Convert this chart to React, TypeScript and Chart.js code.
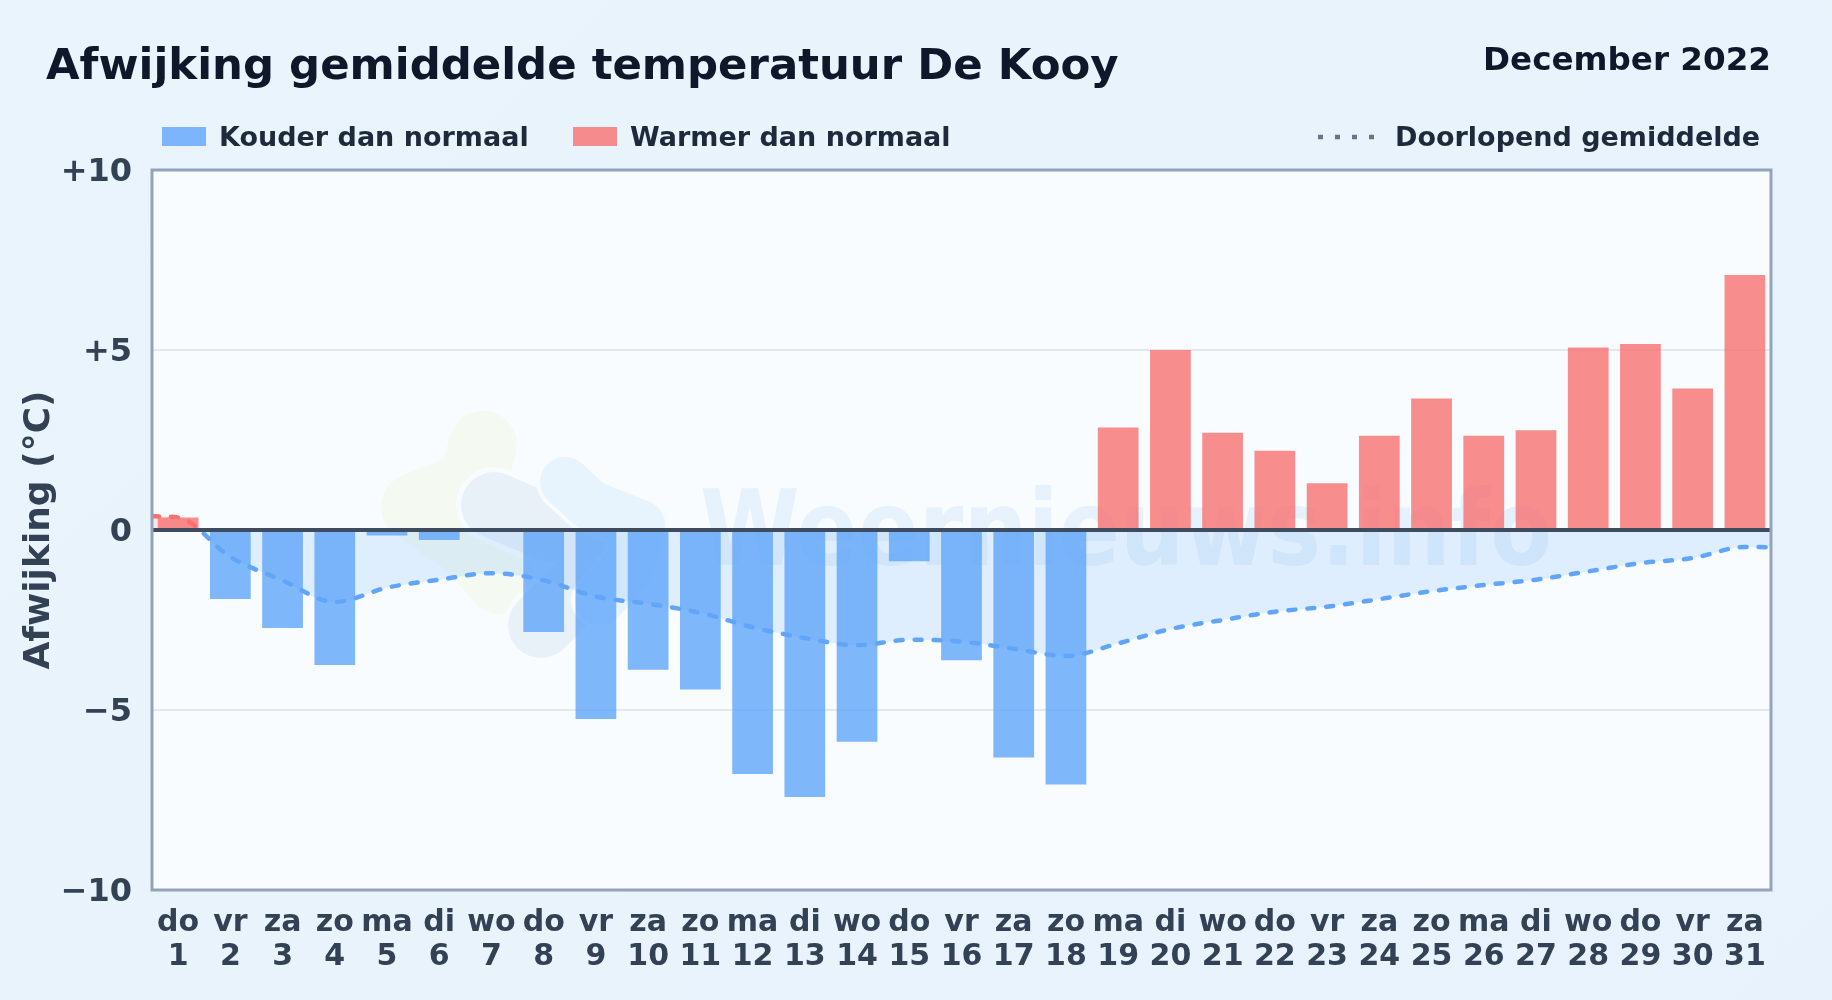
import React, { useEffect, useRef } from "react";
import { Chart, registerables } from "chart.js";

Chart.register(...registerables);

const weekdays = ["do","vr","za","zo","ma","di","wo","do","vr","za","zo","ma","di","wo","do","vr","za","zo","ma","di","wo","do","vr","za","zo","ma","di","wo","do","vr","za"];
const days = ["1","2","3","4","5","6","7","8","9","10","11","12","13","14","15","16","17","18","19","20","21","22","23","24","25","26","27","28","29","30","31"];
const anomaly = [0.35,-1.92,-2.72,-3.75,-0.15,-0.28,0,-2.83,-5.25,-3.88,-4.43,-6.78,-7.42,-5.88,-0.87,-3.62,-6.32,-7.07,2.85,5.0,2.7,2.2,1.3,2.62,3.65,2.62,2.77,5.07,5.17,3.93,7.08];
const runningMean = [0.35,-0.75,-1.4,-2.0,-1.6,-1.38,-1.2,-1.4,-1.85,-2.05,-2.3,-2.7,-3.0,-3.2,-3.05,-3.1,-3.3,-3.5,-3.15,-2.75,-2.5,-2.27,-2.13,-1.92,-1.7,-1.53,-1.38,-1.15,-0.92,-0.78,-0.47];
const edgeMeans = [0.38,-0.48];
const yTicks = [10,5,0,-5,-10];

const FONT = "'DejaVu Sans', sans-serif";
const BLUE = "#60a5fa";
const RED = "#f87171";
const barBlue = "rgba(96,165,250,0.8)";
const barRed = "rgba(248,113,113,0.8)";
const PLOT_BG = "#f8fcff";

function tickText(v: number) {
  if (v > 0) return "+" + v;
  if (v < 0) return "\u2212" + Math.abs(v);
  return "0";
}

const plotBackground = {
  id: "plotBackground",
  beforeDraw(c: any) {
    const { ctx, chartArea: a } = c;
    ctx.save();
    ctx.fillStyle = PLOT_BG;
    ctx.fillRect(a.left, a.top, a.width, a.height);
    ctx.restore();
    const items = c.scales.y.getLabelItems();
    if (!c.$shifted) {
      items.forEach((it: any) => { it.options.translation[1] += 3; });
      c.$shifted = true;
    }
  },
  beforeDatasetsDraw(c: any) {
    const { ctx, chartArea: a } = c;
    ctx.save();
    ctx.beginPath();
    ctx.rect(a.left, a.top, a.width, a.height);
    ctx.clip();
    // faint watermark logo, page-pixel coordinates
    ctx.lineCap = "round";
    ctx.lineJoin = "round";
    const blob = (color: string, pts: number[][], width: number) => {
      ctx.strokeStyle = color;
      ctx.lineWidth = width;
      ctx.beginPath();
      pts.forEach((p, i) => (i ? ctx.lineTo(p[0], p[1]) : ctx.moveTo(p[0], p[1])));
      ctx.stroke();
    };
    const green = [[483,445],[472,485],[415,507],[470,545],[500,580]];
    const slate = [[494,505],[548,528],[590,530],[590,575],[541,625]];
    const sky = [[565,482],[590,505],[640,525],[630,565],[600,600]];
    blob("#f4f9f1", green, 68);
    blob(PLOT_BG, slate, 76);
    blob("#e9f1f8", slate, 66);
    blob(PLOT_BG, sky, 58);
    blob("#e7f3fd", sky, 50);
    // watermark text
    const grad = ctx.createLinearGradient(700, 0, 1550, 0);
    grad.addColorStop(0, "rgba(100,165,225,0.12)");
    grad.addColorStop(1, "rgba(96,165,250,0.16)");
    ctx.fillStyle = grad;
    ctx.font = "bold 105px " + FONT;
    ctx.textBaseline = "alphabetic";
    ctx.translate(700, 565);
    ctx.scale(0.86, 1);
    ctx.fillText("Weernieuws.info", 0, 0);
    ctx.restore();
  },
  afterDatasetsDraw(c: any) {
    const { ctx, chartArea: a, scales } = c;
    const y0 = scales.y.getPixelForValue(0);
    ctx.save();
    ctx.strokeStyle = "#3f4c5f";
    ctx.lineWidth = 4;
    ctx.beginPath();
    ctx.moveTo(a.left, y0);
    ctx.lineTo(a.right, y0);
    ctx.stroke();
    ctx.strokeStyle = "#94a3b8";
    ctx.lineWidth = 3;
    ctx.strokeRect(a.left, a.top, a.width, a.height);
    ctx.restore();
  },
};

function zeroSplit(ctx: any, above: string, below: string) {
  const c = ctx.chart;
  if (!c.chartArea) return below;
  const { top, bottom } = c.chartArea;
  const g = c.ctx.createLinearGradient(0, top, 0, bottom);
  const stop = (c.scales.y.getPixelForValue(0) - top) / (bottom - top);
  g.addColorStop(0, above);
  g.addColorStop(stop, above);
  g.addColorStop(stop, below);
  g.addColorStop(1, below);
  return g;
}

const legendText: React.CSSProperties = { position: "absolute", top: 120, font: "bold 27px " + FONT, color: "#1e293b", lineHeight: "34px", whiteSpace: "nowrap" };

export default function App() {
  const ref = useRef<HTMLCanvasElement>(null);
  useEffect(() => {
    document.body.style.margin = "0";
    document.body.style.background = "linear-gradient(135deg,#e9f4fc,#e8f2fc)";
    const linePoints = [
      { x: 0.5, y: edgeMeans[0] },
      ...runningMean.map((y, i) => ({ x: i + 1, y })),
      { x: 31.5, y: edgeMeans[1] },
    ];
    const chart = new Chart(ref.current!, {
      type: "bar",
      data: {
        labels: days.map((d, i) => [weekdays[i], d]),
        datasets: [
          {
            type: "line",
            label: "Doorlopend gemiddelde",
            data: linePoints as any,
            xAxisID: "xLine",
            order: 1,
            tension: 0.4,
            cubicInterpolationMode: "monotone",
            pointRadius: 0,
            borderWidth: 4.5,
            borderDash: [7, 12],
            borderCapStyle: "round",
            borderColor: (ctx: any) => zeroSplit(ctx, RED, BLUE),
            fill: { target: "origin", above: "rgba(248,113,113,0.14)", below: "rgba(96,165,250,0.16)" },
          },
          {
            type: "bar",
            label: "Afwijking",
            data: anomaly,
            xAxisID: "x",
            order: 2,
            grouped: false,
            barPercentage: 0.78,
            categoryPercentage: 1,
            backgroundColor: anomaly.map((v) => (v >= 0 ? barRed : barBlue)),
          },
        ],
      } as any,
      plugins: [plotBackground],
      options: {
        animation: false,
        responsive: false,
        devicePixelRatio: 1,
        layout: { padding: { top: 170, left: 18, right: 61, bottom: 20 } },
        plugins: { legend: { display: false }, title: { display: false }, tooltip: { enabled: false } },
        scales: {
          x: {
            type: "category",
            offset: true,
            grid: { display: false },
            border: { display: false },
            ticks: { color: "#334155", font: { family: FONT, weight: "bold", size: 30, lineHeight: 1.14 }, maxRotation: 0, minRotation: 0, autoSkip: false, padding: 8 },
            afterFit: (s: any) => { s.height = 90; },
          },
          xLine: { type: "linear", display: false, min: 0.5, max: 31.5, offset: false, grid: { offset: false } },
          y: {
            min: -10,
            max: 10,
            afterBuildTicks: (s: any) => { s.ticks = yTicks.map((value) => ({ value })); },
            grid: { color: (c: any) => (c.tick.value === 0 || Math.abs(c.tick.value) === 10 ? "transparent" : "#e2e8f0"), lineWidth: 2, drawTicks: false },
            border: { display: false },
            ticks: { color: "#334155", font: { family: FONT, weight: "bold", size: 32 }, padding: 20, callback: (v: any) => tickText(Number(v)) },
            title: { display: true, text: "Afwijking (°C)", color: "#334155", font: { family: FONT, weight: "bold", size: 36 }, padding: 0 },
            afterFit: (s: any) => { s.width = 134; },
          },
        },
      } as any,
    });
    return () => chart.destroy();
  }, []);
  return (
    <div style={{ position: "relative", width: 1832, height: 1000, overflow: "hidden" }}>
      <canvas ref={ref} width={1832} height={1000} style={{ position: "absolute", left: 0, top: 0, width: 1832, height: 1000 }} />
      <div style={{ position: "absolute", left: 46, top: 39, font: "bold 43.4px " + FONT, color: "#0f172a", whiteSpace: "nowrap" }}>Afwijking gemiddelde temperatuur De Kooy</div>
      <div style={{ position: "absolute", right: 61, top: 40, font: "bold 32.6px " + FONT, color: "#0f172a", whiteSpace: "nowrap" }}>December 2022</div>
      <span style={{ position: "absolute", left: 162, top: 127, width: 44, height: 19, background: barBlue }} />
      <span style={{ ...legendText, left: 219 }}>Kouder dan normaal</span>
      <span style={{ position: "absolute", left: 573, top: 127, width: 44, height: 19, background: barRed }} />
      <span style={{ ...legendText, left: 630 }}>Warmer dan normaal</span>
      <svg style={{ position: "absolute", left: 1318, top: 134, width: 60, height: 6 }}>
        <line x1="0" y1="3" x2="58" y2="3" stroke="#64748b" strokeWidth="4.5" strokeDasharray="5 12" />
      </svg>
      <span style={{ ...legendText, left: 1395 }}>Doorlopend gemiddelde</span>
    </div>
  );
}
